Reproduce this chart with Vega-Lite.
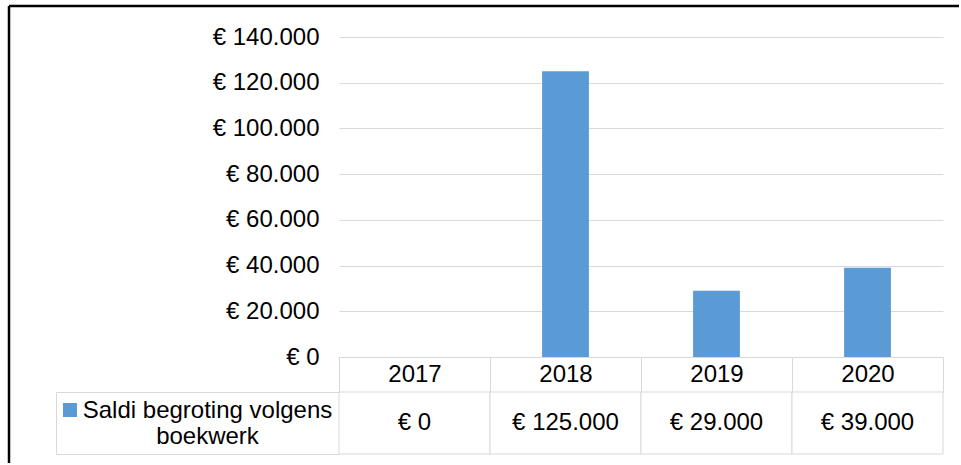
{
  "$schema": "https://vega.github.io/schema/vega-lite/v6.json",
  "padding": {"left": 7, "top": 4, "right": 0, "bottom": 0},
  "background": "white",
  "data": {"values": [
    {"year": "2017", "value": 0, "series": "Saldi begroting volgens boekwerk"},
    {"year": "2018", "value": 125000, "series": "Saldi begroting volgens boekwerk"},
    {"year": "2019", "value": 29000, "series": "Saldi begroting volgens boekwerk"},
    {"year": "2020", "value": 39000, "series": "Saldi begroting volgens boekwerk"}
  ]},
  "config": {
    "font": "Liberation Sans",
    "view": {"stroke": null},
    "locale": {"number": {"decimal": ",", "thousands": ".", "grouping": [3], "currency": ["€ ", ""]}},
    "axis": {"labelFont": "Liberation Sans", "labelColor": "#000000", "labelFontSize": 24}
  },
  "columns": 3,
  "bounds": "flush",
  "spacing": 0,
  "resolve": {"scale": {"color": "independent"}, "legend": {"color": "independent"}},
  "concat": [
    {
      "width": 330, "height": 351,
      "view": {"stroke": "#000000", "strokeWidth": 2.5, "strokeDash": [330, 681, 351, 0]},
      "mark": {"type": "text", "text": ""},
      "encoding": {}
    },
    {
      "width": 604, "height": 351,
      "view": {"stroke": "#000000", "strokeWidth": 2.5, "strokeDash": [604, 2000]},
      "mark": {"type": "bar", "width": {"band": 0.31}},
      "encoding": {
        "x": {"field": "year", "type": "nominal", "sort": null,
          "scale": {"paddingInner": 0, "paddingOuter": 0},
          "axis": {"title": null, "orient": "bottom", "tickBand": "extent", "tickSize": 35, "tickColor": "#d9d9d9", "tickWidth": 1,
            "domainColor": "#d9d9d9", "domainWidth": 1, "labelAngle": 0, "labelBaseline": "middle", "labelPadding": -18, "grid": false}},
        "y": {"field": "value", "type": "quantitative",
          "scale": {"domain": [0, 153562.5], "nice": false},
          "axis": {"title": null, "values": [0, 20000, 40000, 60000, 80000, 100000, 120000, 140000], "format": "$,.0f",
            "ticks": false, "domain": false, "grid": true, "gridColor": "#d9d9d9", "gridWidth": 1, "labelPadding": 20, "labelBaseline": "middle"}},
        "color": {"field": "series", "type": "nominal", "scale": {"range": ["#5b9bd5"]},
          "legend": {"orient": "none", "legendX": -276, "legendY": 397, "title": null, "labelExpr": "''", "labelFontSize": 10,
            "symbolType": "square", "symbolSize": 196, "symbolStrokeWidth": 0, "padding": 0}}
      }
    },
    {
      "width": 16, "height": 351,
      "view": {"stroke": "#000000", "strokeWidth": 2.5, "strokeDash": [16, 2000]},
      "mark": {"type": "text", "text": ""},
      "encoding": {}
    },
    {
      "width": 330, "height": 106,
      "view": {"stroke": "#000000", "strokeWidth": 2.5, "strokeDash": [0, 766, 106, 0]},
      "mark": {"type": "text", "text": ""},
      "encoding": {}
    },
    {
      "width": 604, "height": 106,
      "encoding": {
        "x": {"field": "year", "type": "nominal", "sort": null, "scale": {"paddingInner": 0, "paddingOuter": 0}, "axis": null},
        "y": {"field": "series", "type": "nominal",
          "scale": {"range": [35, 97], "paddingInner": 0, "paddingOuter": 0},
          "axis": {"title": null, "orient": "left", "offset": 283, "domainColor": "#d9d9d9", "domainWidth": 1,
            "ticks": true, "tickColor": "#d9d9d9", "tickWidth": 1, "tickSize": -283, "tickBand": "extent",
            "labelAlign": "center", "labelBaseline": "middle", "labelPadding": 132, "labelLineHeight": 26, "labelLimit": 0,
            "labelOffset": -13,
            "labelExpr": "[slice(datum.label, 0, 23), slice(datum.label, 24)]", "grid": false}}
      },
      "layer": [
        {"mark": {"type": "rect", "fill": "white", "stroke": "#d9d9d9", "strokeWidth": 1}},
        {"mark": {"type": "text", "fontSize": 24, "color": "#000000"},
         "encoding": {"text": {"field": "value", "type": "quantitative", "format": "$,.0f"}}}
      ]
    },
    {
      "width": 16, "height": 106,
      "mark": {"type": "text", "text": ""},
      "encoding": {}
    }
  ]
}
